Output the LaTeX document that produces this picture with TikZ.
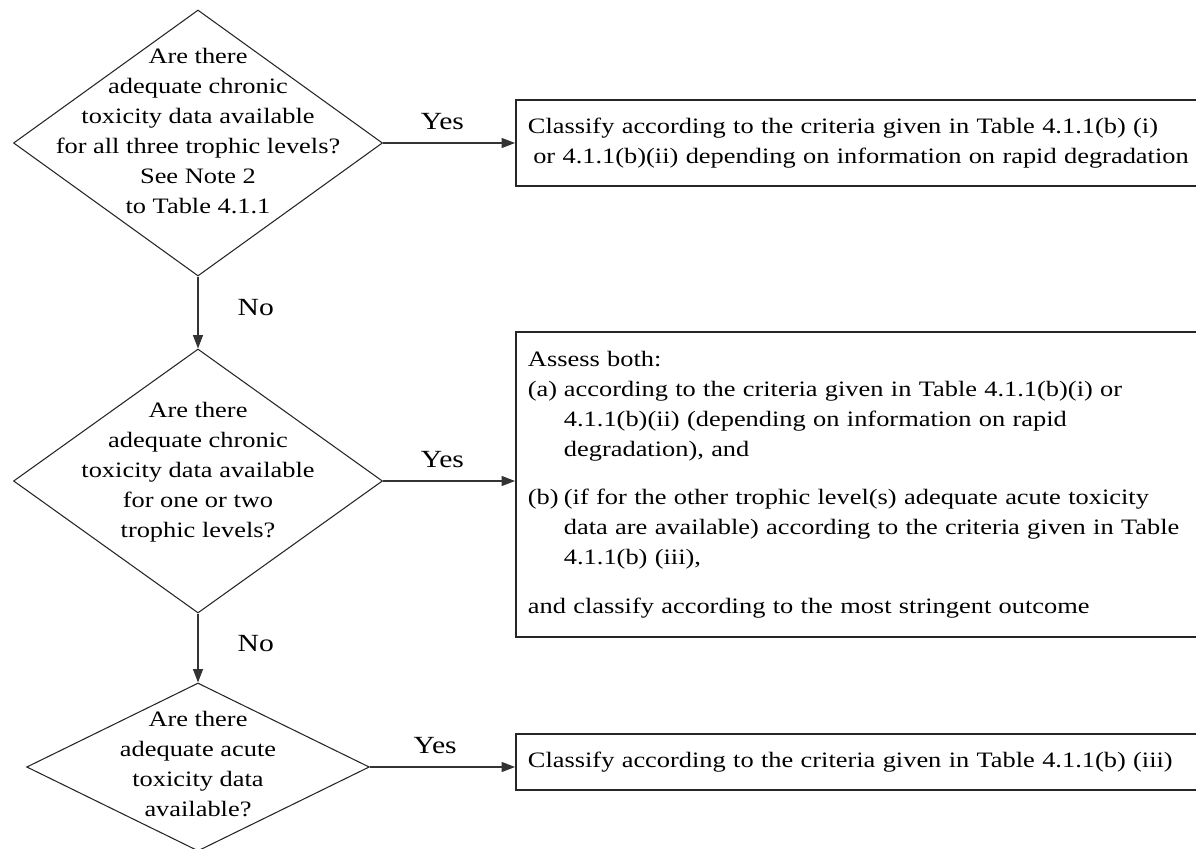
\documentclass[tikz,border=0pt]{standalone}
\usepackage{fontspec}
\setmainfont{Liberation Serif}[FakeStretch=1.2]
\usetikzlibrary{arrows.meta,shapes.geometric}

\tikzset{
  question/.style={draw=black!85,line width=0.8pt,shape=diamond,inner sep=0pt},
  qtext/.style={align=center,font=\fontsize{16.5}{22.5}\selectfont},
  outcome/.style={draw=black!85,line width=1.4pt,anchor=west,minimum width=525pt,
    text width=507pt,inner xsep=9pt,align=left,font=\fontsize{16.5}{22.5}\selectfont},
  flow/.style={-{Triangle[length=10pt,width=7.5pt]},draw=black!80,line width=0.8pt},
  answer/.style={font=\fontsize{18.5}{22.5}\selectfont}
}
\newcommand{\itemlab}[1]{\makebox[27pt][l]{#1}}

\begin{document}
\begin{tikzpicture}[x=0.75pt,y=-0.75pt]
\useasboundingbox (0,0) rectangle (1196,849);
\clip (0,0) rectangle (1196,849);

%question 1
\node[question,minimum width=276.75pt,minimum height=199.5pt] (q1) at (198,143) {};
\node[qtext] (q1text) at (198,131) {Are there\\adequate chronic\\toxicity data available\\for all three trophic levels?\\See Note 2\\to Table 4.1.1};
\node[outcome,minimum height=64.5pt] (r1) at (515,143) {Classify according to the criteria given in Table 4.1.1(b) (i)\\\hspace*{4pt}or 4.1.1(b)(ii) depending on information on rapid degradation};
\draw[flow] (q1.east)--node[answer,above=6pt,pos=0.45]{Yes}(r1.west);

%question 2
\node[question,minimum width=276.75pt,minimum height=198pt] (q2) at (198,481) {};
\node[qtext] (q2text) at (198,472) {Are there\\adequate chronic\\toxicity data available\\for one or two\\trophic levels?};
\node[outcome,minimum height=229pt] (r2) at (515,484.5) {Assess both:\\
\itemlab{(a)}according to the criteria given in Table 4.1.1(b)(i) or\\
\itemlab{}4.1.1(b)(ii) (depending on information on rapid\\
\itemlab{}degradation), and\\[14pt]
\itemlab{(b)}(if for the other trophic level(s) adequate acute toxicity\\
\itemlab{}data are available) according to the criteria given in Table\\
\itemlab{}4.1.1(b) (iii),\\[14pt]
and classify according to the most stringent outcome};
\draw[flow] (q2.east)--node[answer,above=6pt,pos=0.45]{Yes}(q2.east-|r2.west);
\draw[flow] (q1.south)--node[answer,right=26pt,pos=0.43]{No}(q2.north);

%question 3
\node[question,minimum width=257pt,minimum height=126pt] (q3) at (198,767) {};
\node[qtext] (q3text) at (198,764) {Are there\\adequate acute\\toxicity data\\available?};
\node[outcome,minimum height=42pt] (r3) at (515,762) {Classify according to the criteria given in Table 4.1.1(b) (iii)};
\draw[flow] (q3.east)--node[answer,above=6pt,pos=0.45]{Yes}(q3.east-|r3.west);
\draw[flow] (q2.south)--node[answer,right=26pt,pos=0.43]{No}(q3.north);
\end{tikzpicture}
\end{document}
